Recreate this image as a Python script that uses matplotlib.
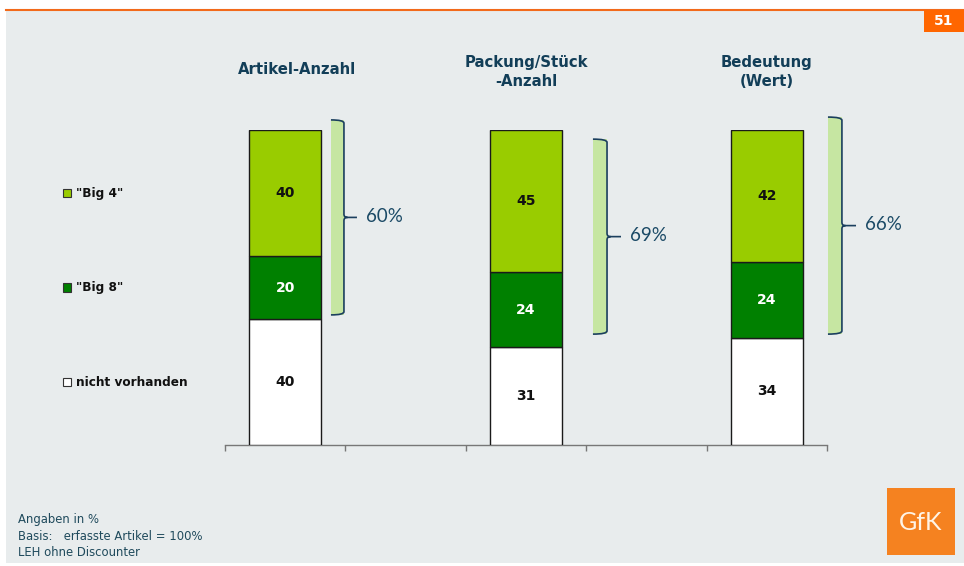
import matplotlib.pyplot as plt
import matplotlib.transforms as mtransforms
from matplotlib.patches import Rectangle, PathPatch
from matplotlib.path import Path
import numpy as np

# Daten
kategorien = ['Artikel-Anzahl', 'Packung/Stück\n-Anzahl', 'Bedeutung\n(Wert)']
serien = ['"Big 4"', '"Big 8"', 'nicht vorhanden']
big4 = [40, 45, 42]
big8 = [20, 24, 24]
nicht_vorhanden = [40, 31, 34]
summen = ['60%', '69%', '66%']
fussnote = ['Angaben in %', 'Basis:   erfasste Artikel = 100%', 'LEH ohne Discounter']
seite = '51'

# Layout / Farben
W, H = 964, 566
x_pos = [0, 2, 4]
farbe_big4 = '#99CC00'
farbe_big8 = '#008000'
farbe_nv = '#FFFFFF'
text_blau = '#123E58'
klammer_x0 = [0.380, 2.556, 4.508]
klammer_x1 = [0.488, 2.673, 4.624]
klammer_spitze = [0.596, 2.789, 4.741]
klammer_oben = [103.2, 97.1, 104.1]
klammer_unten = [41.3, 35.2, 35.2]
titel_x = [0.1, 2.0, 4.0]
titel_py = [69, 72, 72]


def fx(px):
    return px / W


def fy(py):
    return 1 - py / H


fig = plt.figure(figsize=(W / 100, H / 100), dpi=100)
fig.patch.set_facecolor('white')

# grauer Hintergrund + orange Linie
fig.add_artist(Rectangle((fx(6), fy(563)), fx(W) - fx(6), fy(10) - fy(563),
                         transform=fig.transFigure, facecolor='#E8ECED',
                         edgecolor='none', zorder=0))
fig.add_artist(plt.Line2D([fx(6), 1], [fy(9.5), fy(9.5)], transform=fig.transFigure,
                          color='#F26A1B', lw=1.5, zorder=1))
# Seitenzahl
fig.add_artist(Rectangle((fx(924), fy(32)), fx(964) - fx(924), fy(10) - fy(32),
                         transform=fig.transFigure, facecolor='#FF6600',
                         edgecolor='none', zorder=2))
fig.text(fx(944), fy(21), seite, color='white', fontsize=10, fontweight='bold',
         ha='center', va='center')

ax = fig.add_axes([fx(225), fy(445), fx(827) - fx(225), fy(130) - fy(445)])
ax.set_facecolor('none')

breite = 0.6
ax.bar(x_pos, nicht_vorhanden, breite, color=farbe_nv, edgecolor='#1A1A1A', lw=1, zorder=3)
ax.bar(x_pos, big8, breite, bottom=nicht_vorhanden, color=farbe_big8,
       edgecolor='#1A1A1A', lw=1, zorder=3)
unten4 = np.array(nicht_vorhanden) + np.array(big8)
ax.bar(x_pos, big4, breite, bottom=unten4, color=farbe_big4,
       edgecolor='#1A1A1A', lw=1, zorder=3)

for i, x in enumerate(x_pos):
    ax.text(x, nicht_vorhanden[i] / 2, str(nicht_vorhanden[i]), ha='center', va='center',
            fontsize=10, fontweight='bold', color='#111111', zorder=4)
    ax.text(x, nicht_vorhanden[i] + big8[i] / 2, str(big8[i]), ha='center', va='center',
            fontsize=10, fontweight='bold', color='white', zorder=4)
    ax.text(x, unten4[i] + big4[i] / 2, str(big4[i]), ha='center', va='center',
            fontsize=10, fontweight='bold', color='#111111', zorder=4)

ax.set_xlim(-0.5, 4.5)
ax.set_ylim(0, 100)
ax.set_xticks(np.arange(-0.5, 5, 1))
ax.set_xticklabels([])
ax.set_yticks([])
for s in ['top', 'right', 'left']:
    ax.spines[s].set_visible(False)
ax.spines['bottom'].set_color('#777777')
ax.spines['bottom'].set_linewidth(1)
ax.tick_params(axis='x', direction='out', length=4, color='#777777', width=1)

# Titel
titel_trans = mtransforms.blended_transform_factory(ax.transData, fig.transFigure)
for i in range(3):
    ax.text(titel_x[i], fy(titel_py[i]), kategorien[i], transform=titel_trans,
            ha='center', va='center', fontsize=10.7, fontweight='bold',
            color=text_blau, linespacing=1.35)

# Klammern
for i in range(3):
    x0, x1, xs = klammer_x0[i], klammer_x1[i], klammer_spitze[i]
    yo, yu = klammer_oben[i], klammer_unten[i]
    ym = (yo + yu) / 2
    h = 1.0
    ax.add_patch(Rectangle((x0, yu), x1 - x0, yo - yu, facecolor='#C6E6A2',
                           edgecolor='none', clip_on=False, zorder=2))
    verts = [(x0, yo), (x1, yo), (x1, yo - h),
             (x1, ym + h), (x1, ym), (x1 + 0.03, ym), (xs, ym),
             (x1 + 0.03, ym), (x1, ym), (x1, ym - h),
             (x1, yu + h), (x1, yu), (x0, yu)]
    codes = [Path.MOVETO, Path.CURVE3, Path.CURVE3,
             Path.LINETO, Path.CURVE3, Path.CURVE3, Path.LINETO,
             Path.MOVETO, Path.CURVE3, Path.CURVE3,
             Path.LINETO, Path.CURVE3, Path.CURVE3]
    ax.add_patch(PathPatch(Path(verts, codes), facecolor='none', edgecolor='#1B3F5E',
                           lw=1.2, clip_on=False, zorder=3))
    ax.text(xs + 0.075, ym + 0.3, summen[i], ha='left', va='center', fontsize=13.5,
            family='Lato', color='#1B4A66')

# Legende
trans = mtransforms.blended_transform_factory(fig.transFigure, ax.transData)
leg_y = [unten4[0] + big4[0] / 2, nicht_vorhanden[0] + big8[0] / 2, nicht_vorhanden[0] / 2]
leg_farben = [farbe_big4, farbe_big8, farbe_nv]
for i in range(3):
    ax.add_patch(Rectangle((fx(63), leg_y[i] - 1.3), fx(71) - fx(63), 2.6,
                           transform=trans, facecolor=leg_farben[i], edgecolor='#333333',
                           lw=0.8, clip_on=False))
    ax.text(fx(76.5), leg_y[i], serien[i], transform=trans, ha='left', va='center',
            fontsize=8.7, fontweight='bold', color='#111111')

# Fussnote
for i, zeile in enumerate(fussnote):
    fig.text(fx(18), fy(520 + 16 * i), zeile, ha='left', va='center', fontsize=8.4,
             color='#1F4A5C')

# Logo
fig.add_artist(Rectangle((fx(887), fy(555)), fx(955) - fx(887), fy(488) - fy(555),
                         transform=fig.transFigure, facecolor='#F58220',
                         edgecolor='none', zorder=2))
fig.text(fx(921), fy(522), 'GfK', ha='center', va='center', fontsize=18,
         family='Lato', color='#FFF4E6', zorder=3)

fig.savefig('out.png', dpi=100)
